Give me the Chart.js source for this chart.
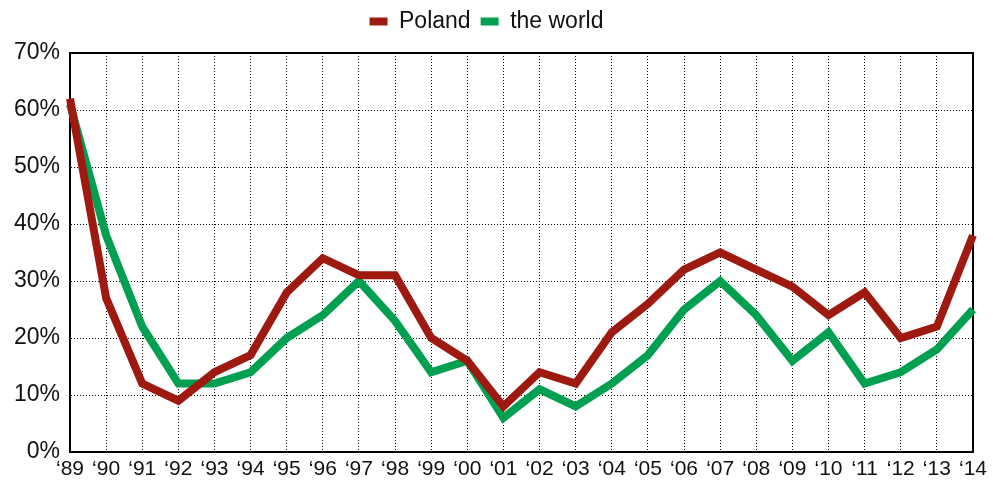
<!DOCTYPE html>
<html>
<head>
<meta charset="utf-8">
<script src="https://cdn.jsdelivr.net/npm/chart.js@4/dist/chart.umd.min.js"></script>
<style>
  html, body { margin: 0; padding: 0; background: #fff; }
  #wrap { width: 993px; height: 484px; position: relative; }
</style>
</head>
<body>
<div id="wrap"><canvas id="chart"></canvas></div>
<script>
// data
var years = ['\u201889', '\u201890', '\u201891', '\u201892', '\u201893', '\u201894', '\u201895', '\u201896', '\u201897', '\u201898', '\u201899', '\u201800', '\u201801',
             '\u201802', '\u201803', '\u201804', '\u201805', '\u201806', '\u201807', '\u201808', '\u201809', '\u201810', '\u201811', '\u201812', '\u201813', '\u201814'];
var poland = [62, 27, 12, 9, 14, 17, 28, 34, 31, 31, 20, 16, 8, 14, 12, 21, 26, 32, 35, 32, 29, 24, 28, 20, 22, 38];
var world  = [61, 38, 22, 12, 12, 14, 20, 24, 30, 23, 14, 16, 6, 11, 8, 12, 17, 25, 30, 24, 16, 21, 12, 14, 18, 25];
var yTicks = [0, 10, 20, 30, 40, 50, 60, 70];

var RED = '#9e1a10';
var GREEN = '#00a050';
var FONT = "'Liberation Sans', Arial, sans-serif";

// solid frame round the plot area (top and right edges)
var framePlugin = {
	id: 'frame',
	afterInit: function(chart) {
		// a bit more room under the legend
		var fit = chart.legend.fit;
		chart.legend.fit = function() {
			fit.call(this);
			this.height += 10;
		};
	},
	beforeDatasetsDraw: function(chart) {
		var a = chart.chartArea;
		var ctx = chart.ctx;
		ctx.save();
		ctx.strokeStyle = '#000';
		ctx.lineWidth = 2;
		ctx.strokeRect(a.left, a.top, a.right - a.left, a.bottom - a.top);
		ctx.restore();
	}
};

new Chart(document.getElementById('chart'), {
	type: 'line',
	data: {
		labels: years,
		datasets: [{
			label: 'Poland',
			data: poland,
			borderColor: RED,
			backgroundColor: RED,
			borderWidth: 8,
			pointRadius: 0,
			tension: 0
		}, {
			label: 'the world',
			data: world,
			borderColor: GREEN,
			backgroundColor: GREEN,
			borderWidth: 8,
			pointRadius: 0,
			tension: 0
		}]
	},
	options: {
		responsive: true,
		maintainAspectRatio: false,
		animation: false,
		layout: { padding: { left: 0, right: 20, top: 0, bottom: 0 } },
		plugins: {
			legend: {
				display: true,
				position: 'top',
				labels: {
					boxWidth: 18,
					boxHeight: 8,
					padding: 10,
					color: '#111',
					font: { family: FONT, size: 23 },
					generateLabels: function(chart) {
						var items = Chart.defaults.plugins.legend.labels.generateLabels(chart);
						items.forEach(function(it) { it.lineWidth = 0; });
						return items;
					}
				}
			},
			tooltip: { enabled: false }
		},
		scales: {
			x: {
				offset: false,
				grid: {
					color: function(c) { return (c.index === 0 || c.index === years.length - 1) ? 'rgba(0,0,0,0)' : '#000'; },
					lineWidth: 1,
					drawTicks: false
				},
				border: { display: true, color: '#000', width: 2, dash: [1, 2] },
				ticks: {
					color: '#111',
					padding: 5,
					maxRotation: 0,
					autoSkip: false,
					font: { family: FONT, size: 21 }
				},
				afterFit: function(scale) { scale.height = 32; }
			},
			y: {
				min: 0,
				max: 70,
				afterBuildTicks: function(scale) {
					scale.ticks = yTicks.map(function(v) { return { value: v }; });
				},
				grid: {
					color: function(c) { return (c.tick.value === 0 || c.tick.value === 70) ? 'rgba(0,0,0,0)' : '#000'; },
					lineWidth: 1,
					drawTicks: false
				},
				border: { display: true, color: '#000', width: 2, dash: [1, 2] },
				ticks: {
					color: '#111',
					padding: 10,
					font: { family: FONT, size: 23 },
					callback: function(v) { return v + '%'; }
				},
				afterFit: function(scale) { scale.width = 70; }
			}
		}
	},
	plugins: [framePlugin]
});
</script>
</body>
</html>
